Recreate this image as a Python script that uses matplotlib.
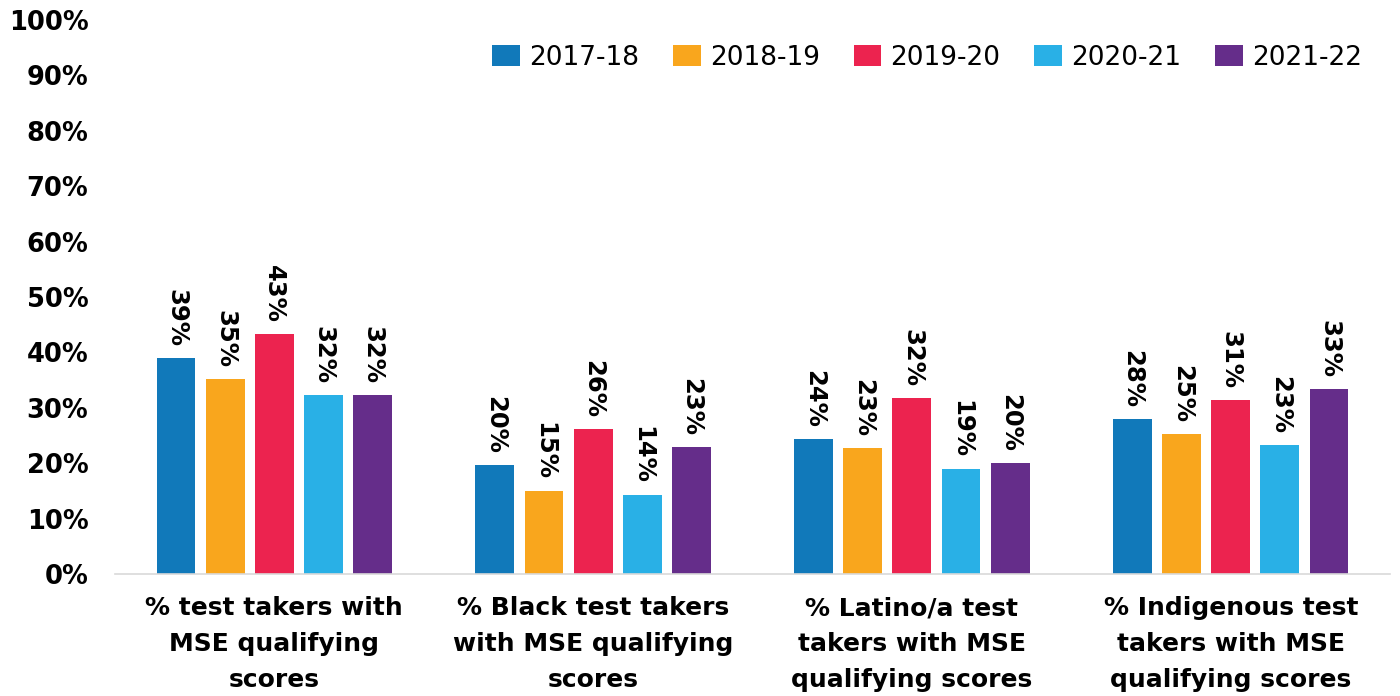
import matplotlib
matplotlib.use("Agg")
import matplotlib.pyplot as plt
import numpy as np

# Data
categories = [
    "% test takers with\nMSE qualifying\nscores",
    "% Black test takers\nwith MSE qualifying\nscores",
    "% Latino/a test\ntakers with MSE\nqualifying scores",
    "% Indigenous test\ntakers with MSE\nqualifying scores",
]
years = ["2017-18", "2018-19", "2019-20", "2020-21", "2021-22"]
v_2017_18 = [39.0, 19.6, 24.4, 28.0]
v_2018_19 = [35.2, 15.0, 22.7, 25.3]
v_2019_20 = [43.3, 26.2, 31.8, 31.4]
v_2020_21 = [32.3, 14.3, 19.0, 23.3]
v_2021_22 = [32.3, 22.9, 20.0, 33.4]
series = [v_2017_18, v_2018_19, v_2019_20, v_2020_21, v_2021_22]
colors = ["#1179BA", "#F9A61D", "#EC234F", "#29B0E6", "#652D8A"]

plt.rcParams["font.family"] = ["DejaVu Sans"]

fig = plt.figure(figsize=(14, 6.96), dpi=100)
ax = fig.add_axes([0.082, 0.1753, 0.911, 0.796])

x = np.arange(len(categories))
width = 0.122
step = 0.154

for i, (vals, year, color) in enumerate(zip(series, years, colors)):
    pos = x + (i - 2) * step
    bars = ax.bar(pos, vals, width, color=color, label=year)
    for b, v in zip(bars, vals):
        ax.annotate(
            f"{v:.0f}%",
            (b.get_x() + b.get_width() / 2, b.get_height()),
            xytext=(0, 8),
            textcoords="offset points",
            rotation=-90,
            ha="center",
            va="bottom",
            fontsize=17.5,
            fontweight="bold",
        )

ax.set_xlim(-0.5, 3.5)
ax.set_ylim(0, 100)
ax.set_yticks(range(0, 101, 10))
ax.set_yticklabels([f"{t}%" for t in range(0, 101, 10)], fontsize=18.5, fontweight="bold")
ax.set_xticks(x)
ax.set_xticklabels(categories, fontsize=18, fontweight="bold", linespacing=1.62)

for s in ["top", "right", "left"]:
    ax.spines[s].set_visible(False)
ax.spines["bottom"].set_color("#d9d9d9")
ax.spines["bottom"].set_linewidth(1.2)
ax.tick_params(axis="both", length=0)
ax.tick_params(axis="y", pad=19)
ax.tick_params(axis="x", pad=16)

fig.legend(
    loc="center right",
    bbox_to_anchor=(1362 / 1400, 1 - 58 / 696),
    ncol=5,
    frameon=False,
    fontsize=19,
    handlelength=1.05,
    handleheight=0.85,
    handletextpad=0.35,
    columnspacing=1.28,
    borderpad=0,
    borderaxespad=0,
)

fig.savefig("out.png", dpi=100)
